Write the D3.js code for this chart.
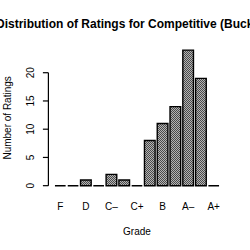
<!DOCTYPE html>
<html>
<head>
<meta charset="utf-8">
<script src="https://cdn.jsdelivr.net/npm/d3@7"></script>
<style>
  html, body { margin: 0; padding: 0; background: #fff; }
  svg { display: block; }
  text { font-family: "Liberation Sans", Arial, Helvetica, sans-serif; fill: #000; }
</style>
</head>
<body>
<script>
// ---- data ----
const grades = ["F", "D-", "D", "D+", "C-", "C", "C+", "B-", "B", "B+", "A-", "A", "A+"];
const counts = [0, 0, 1, 0, 2, 1, 0, 8, 11, 14, 24, 19, 0];
const xTickLabels = ["F", "D", "C\u2013", "C+", "B", "A\u2013", "A+"];
const xTickIndex = [0, 2, 4, 6, 8, 10, 12];
const yTicks = [0, 5, 10, 15, 20];
const titleText = "Distribution of Ratings for Competitive (Buckets)";
const xLabel = "Grade";
const yLabel = "Number of Ratings";

// ---- layout ----
const W = 250, H = 250;
const barWidth = 1, barSpace = 0.2;
const xMin = barSpace, xMax = grades.length * (barWidth + barSpace);
const xPad = (xMax - xMin) * 0.04;
const yMax = d3.max(counts);
const yPad = yMax * 0.04;

const plotLeft = 48.4, plotRight = 225.6, plotTop = 44.7, plotBottom = 191.1;

const x = d3.scaleLinear().domain([xMin - xPad, xMax + xPad]).range([plotLeft, plotRight]);
const y = d3.scaleLinear().domain([-yPad, yMax + yPad]).range([plotBottom, plotTop]);

const svg = d3.select("body").append("svg").attr("width", W).attr("height", H);

// checker fill pattern
const defs = svg.append("defs");
const pat = defs.append("pattern").attr("id", "chk").attr("patternUnits", "userSpaceOnUse")
  .attr("x", 0).attr("y", 0).attr("width", 2).attr("height", 2);
pat.append("rect").attr("width", 2).attr("height", 2).attr("fill", "#b4b4b4");
pat.append("rect").attr("width", 1).attr("height", 1).attr("fill", "#4a4a4a");
pat.append("rect").attr("x", 1).attr("y", 1).attr("width", 1).attr("height", 1).attr("fill", "#4a4a4a");

// bars
const left = i => barSpace + i * (barWidth + barSpace);
svg.append("g").selectAll("path").data(counts).join("path")
  .attr("d", (d, i) => {
    const x0 = x(left(i)), x1 = x(left(i) + barWidth), y0 = y(0), y1 = y(d);
    return `M${x0},${y0}H${x1}V${y1}H${x0}Z`;
  })
  .attr("fill", "url(#chk)")
  .attr("stroke", "#000")
  .attr("stroke-width", 1.4);

// y axis
const ya = svg.append("g");
ya.append("line").attr("x1", plotLeft).attr("x2", plotLeft)
  .attr("y1", y(yTicks[0])).attr("y2", y(yTicks[yTicks.length - 1]))
  .attr("stroke", "#000").attr("stroke-width", 1.2);
ya.selectAll("line.tk").data(yTicks).join("line").attr("class", "tk")
  .attr("x1", plotLeft - 5.5).attr("x2", plotLeft)
  .attr("y1", d => y(d)).attr("y2", d => y(d))
  .attr("stroke", "#000").attr("stroke-width", 1.2);
ya.selectAll("text").data(yTicks).join("text")
  .attr("transform", d => `translate(${plotLeft - 14},${y(d)}) rotate(-90)`)
  .attr("text-anchor", "middle")
  .attr("font-size", 10)
  .text(d => d);

// x tick labels
svg.append("g").selectAll("text").data(xTickIndex).join("text")
  .attr("x", (d) => x(left(d) + barWidth / 2))
  .attr("y", 210)
  .attr("text-anchor", "middle")
  .attr("font-size", 10)
  .text((d, i) => xTickLabels[i]);

// axis titles
svg.append("text").attr("x", (plotLeft + plotRight) / 2).attr("y", 235)
  .attr("text-anchor", "middle").attr("font-size", 10).text(xLabel);
svg.append("text")
  .attr("transform", `translate(10.5,${(plotTop + plotBottom) / 2}) rotate(-90)`)
  .attr("text-anchor", "middle").attr("font-size", 10).text(yLabel);

// title (starts just off the left edge, as in the reference)
svg.append("text").attr("x", -4).attr("y", 28)
  .attr("text-anchor", "start").attr("font-size", 12).attr("font-weight", "bold")
  .text(titleText);
</script>
</body>
</html>
